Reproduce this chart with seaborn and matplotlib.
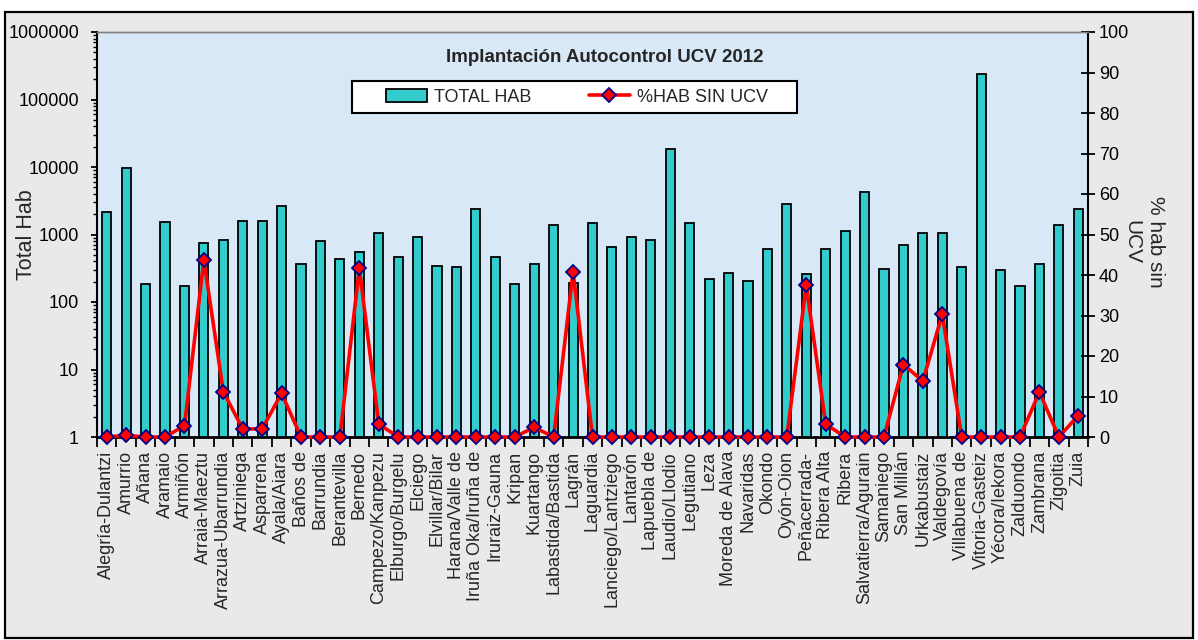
import numpy as np
import pandas as pd
import matplotlib
matplotlib.use("Agg")
import matplotlib.pyplot as plt
import seaborn as sns
from matplotlib.patches import Rectangle, Patch
from matplotlib.lines import Line2D
from matplotlib.ticker import FixedLocator, LogLocator, NullFormatter, FuncFormatter

municipios = [
    "Alegría-Dulantzi", "Amurrio", "Añana", "Aramaio", "Armiñón", "Arraia-Maeztu",
    "Arrazua-Ubarrundia", "Artziniega", "Asparrena", "Ayala/Aiara", "Baños de",
    "Barrundia", "Berantevilla", "Bernedo", "Campezo/Kanpezu", "Elburgo/Burgelu",
    "Elciego", "Elvillar/Bilar", "Harana/Valle de", "Iruña Oka/Iruña de",
    "Iruraiz-Gauna", "Kripan", "Kuartango", "Labastida/Bastida", "Lagrán",
    "Laguardia", "Lanciego/Lantziego", "Lantarón", "Lapuebla de", "Laudio/Llodio",
    "Legutiano", "Leza", "Moreda de Alava", "Navaridas", "Okondo", "Oyón-Oion",
    "Peñacerrada-", "Ribera Alta", "Ribera", "Salvatierra/Agurain", "Samaniego",
    "San Millán", "Urkabustaiz", "Valdegovía", "Villabuena de", "Vitoria-Gasteiz",
    "Yécora/Iekora", "Zalduondo", "Zambrana", "Zigoitia", "Zuia",
]

total_hab = [
    2130, 9600, 183, 1510, 172, 740,
    830, 1590, 1590, 2680, 368,
    790, 440, 553, 1040, 460,
    930, 347, 327, 2350,
    460, 182, 368, 1400, 193,
    1500, 655, 930, 830, 18500,
    1500, 218, 272, 203, 620, 2820,
    258, 620, 1120, 4200, 310,
    695, 1040, 1040, 327, 235000,
    293, 172, 368, 1400, 2350,
]

pct_sin_ucv = [
    0, 0.4, 0, 0, 2.8, 43.7,
    11.2, 2.0, 2.0, 10.8, 0,
    0, 0, 41.7, 3.2, 0,
    0, 0, 0, 0,
    0, 0, 2.4, 0, 40.8,
    0, 0, 0, 0, 0,
    0, 0, 0, 0, 0, 0,
    37.5, 3.2, 0, 0, 0,
    17.9, 13.8, 30.3, 0, 0,
    0, 0, 11.1, 0, 5.3,
]

left_ticks = [1, 10, 100, 1000, 10000, 100000, 1000000]
right_ticks = list(range(0, 101, 10))

sns.set_style("ticks")
plt.rcParams["font.family"] = ["Liberation Sans", "DejaVu Sans"]

W, H = 1198, 640
fig = plt.figure(figsize=(W / 100, H / 100), dpi=100)
fig.patch.set_facecolor("white")
fig.add_artist(Rectangle((5 / W, 2 / H), 1188 / W, 626 / H, transform=fig.transFigure,
                         facecolor="#e9e9e9", edgecolor="black", lw=1.6, zorder=-10))

ax = fig.add_axes([97 / W, 1 - 437 / H, 991 / W, 405 / H])
ax.set_facecolor("#d9e8f7")

df = pd.DataFrame({"Municipio": municipios, "TOTAL HAB": total_hab, "pct": pct_sin_ucv})

sns.barplot(data=df, x="Municipio", y="TOTAL HAB", ax=ax, color="#33cccc", saturation=1,
            width=0.47, edgecolor="black", linewidth=1.3, log_scale=True)
ax.set_yscale("log")
ax.set_ylim(1, 1e6)
ax.yaxis.set_major_locator(FixedLocator(left_ticks))
ax.yaxis.set_major_formatter(FuncFormatter(lambda v, p: f"{int(round(v))}"))
ax.yaxis.set_minor_locator(LogLocator(base=10, subs=np.arange(2, 10)))
ax.yaxis.set_minor_formatter(NullFormatter())
ax.tick_params(axis="y", which="major", direction="out", length=4, width=1.3, labelsize=13, pad=9, colors="black")
ax.tick_params(axis="y", which="minor", direction="out", length=3, width=1, colors="black")
ax.set_ylabel("")
ax.set_xlabel("")

ax2 = ax.twinx()
sns.pointplot(data=df, x="Municipio", y="pct", ax=ax2, color="red", markers="D",
              linestyles="-", errorbar=None, markersize=7, markeredgecolor="#00008b",
              markeredgewidth=1.3, linewidth=2.6)
for ln in ax2.lines:
    ln.set_clip_on(False)
ax2.set_ylim(0, 100)
ax2.yaxis.set_major_locator(FixedLocator(right_ticks))
ax2.tick_params(axis="y", direction="inout", length=10, width=1.3, labelsize=13, pad=3, colors="black")
ax2.set_ylabel("")
ax2.set_xlabel("")

n = len(municipios)
ax.set_xlim(-0.5, n - 0.5)
ax.xaxis.set_major_locator(FixedLocator(np.arange(n)))
ax.set_xticklabels(municipios, rotation=90, ha="center", va="top", fontsize=13)
ax.xaxis.set_minor_locator(FixedLocator(np.arange(n + 1) - 0.5))
ax.tick_params(axis="x", which="major", length=0, pad=10)
ax.tick_params(axis="x", which="minor", direction="out", length=7, width=1.3, colors="black")
ax2.tick_params(axis="x", which="both", length=0)

for a in (ax, ax2):
    a.spines["top"].set_color("#808080")
    a.spines["top"].set_linewidth(1.0)
ax.spines["left"].set_color("black"); ax.spines["left"].set_linewidth(1.5)
ax.spines["bottom"].set_color("black"); ax.spines["bottom"].set_linewidth(2)
ax.spines["right"].set_visible(False)
ax2.spines["left"].set_visible(False)
ax2.spines["bottom"].set_visible(False)
ax2.spines["right"].set_visible(True)
ax2.spines["right"].set_color("black"); ax2.spines["right"].set_linewidth(1.5)

fig.text(605 / W, 1 - 57 / H, "Implantación Autocontrol UCV 2012", fontweight="bold",
         fontsize=13.5, ha="center", va="center")
fig.text(27 / W, 1 - 235 / H, "Total Hab", rotation=90, ha="center", va="center", fontsize=15.5)
fig.text(1144 / W, 1 - 242 / H, "% hab sin\nUCV", rotation=270, ha="center", va="center",
         multialignment="center", fontsize=15, linespacing=1.3)

# legend box
fig.add_artist(Rectangle((352 / W, 1 - 113 / H), 445 / W, 32 / H, transform=fig.transFigure,
                         facecolor="white", edgecolor="black", lw=1.5, zorder=5))
handles = [Patch(facecolor="#33cccc", edgecolor="black", linewidth=1.3),
           Line2D([], [], color="red", lw=2.6, marker="D", markersize=7,
                  markerfacecolor="red", markeredgecolor="#00008b", markeredgewidth=1.3)]
leg = fig.legend(handles, ["TOTAL HAB", "%HAB SIN UCV"], loc="center left",
                 bbox_to_anchor=(386 / W, 1 - 97 / H), ncol=2, frameon=False,
                 columnspacing=3.2, handlelength=2.27, handletextpad=0.38, fontsize=13,
                 borderpad=0, borderaxespad=0)
leg.set_zorder(6)

fig.savefig("out.png", dpi=100)
